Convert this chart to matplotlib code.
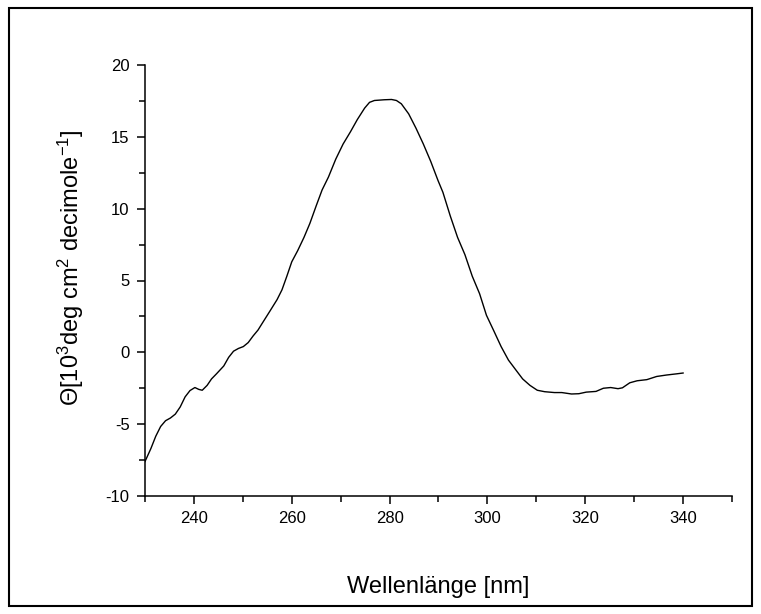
import matplotlib
matplotlib.use("Agg")
import matplotlib.pyplot as plt
from matplotlib.ticker import MultipleLocator
from matplotlib.patches import Rectangle

plt.rcParams['font.family'] = ['Liberation Sans', 'DejaVu Sans']
plt.rcParams['mathtext.fontset'] = 'custom'
plt.rcParams['mathtext.rm'] = 'Liberation Sans'
plt.rcParams['mathtext.it'] = 'Liberation Sans'
plt.rcParams['mathtext.default'] = 'regular'
plt.rcParams['axes.unicode_minus'] = False

wavelength = [230, 231.2, 232.2, 233.2, 234.2, 235.2, 236.2, 237.2, 238.2, 239.2,
              240.2, 241, 241.7, 242.7, 243.6, 244.6, 246.1, 247.1, 248.1, 249.1,
              250.1, 251.1, 252.1, 253.1, 254, 255.5, 257, 258, 259, 260,
              261.2, 262.5, 263.7, 265, 266.2, 267.5, 269, 270.5, 272, 273.4,
              274.9, 275.9, 276.9, 278.9, 280.4, 281.4, 282.4, 283.9, 285.4, 286.9,
              288.4, 289.9, 290.9, 292.4, 293.9, 295.4, 296.9, 298.4, 299.8, 301.3,
              302.8, 304.3, 305.8, 307.2, 308.7, 310.2, 311.7, 313.7, 315.2, 317.2,
              318.7, 320.2, 322.2, 323.7, 325.2, 326.7, 327.6, 329.1, 330.6, 332.6,
              334.6, 336.6, 338.6, 340]
theta = [-7.6, -6.7, -5.84, -5.16, -4.76, -4.57, -4.3, -3.8, -3.1, -2.66,
         -2.45, -2.58, -2.64, -2.3, -1.85, -1.5, -0.95, -0.35, 0.08, 0.27,
         0.4, 0.68, 1.14, 1.55, 2.04, 2.85, 3.67, 4.35, 5.3, 6.3,
         7.07, 8.0, 8.97, 10.2, 11.3, 12.2, 13.45, 14.5, 15.35, 16.2,
         17.0, 17.4, 17.53, 17.58, 17.6, 17.53, 17.3, 16.6, 15.6, 14.5,
         13.3, 11.96, 11.14, 9.5, 8.0, 6.8, 5.3, 4.08, 2.58, 1.5,
         0.4, -0.54, -1.22, -1.85, -2.3, -2.64, -2.74, -2.8, -2.8, -2.9,
         -2.88, -2.77, -2.72, -2.5, -2.45, -2.53, -2.47, -2.12, -1.98, -1.9,
         -1.68, -1.58, -1.5, -1.44]

xlabel = "Wellenlänge [nm]"
ylabel = "Θ[10$^{3}$deg cm$^{2}$ decimole$^{-1}$]"

W, H = 761, 614
fig = plt.figure(figsize=(W/100, H/100), dpi=100)
ax = fig.add_axes([145/W, 1-496/H, (732-145)/W, (496-65)/H])

ax.plot(wavelength, theta, color='black', lw=1.0)

ax.set_xlim(230, 350)
ax.set_ylim(-10, 20)
ax.yaxis.set_major_locator(MultipleLocator(5))
ax.yaxis.set_minor_locator(MultipleLocator(2.5))
ax.set_xticks([240, 260, 280, 300, 320, 340])
ax.set_xticks([230, 250, 270, 290, 310, 330, 350], minor=True)

for s in ['top', 'right']:
    ax.spines[s].set_visible(False)
for s in ['left', 'bottom']:
    ax.spines[s].set_linewidth(1.1)

ax.tick_params(which='major', direction='out', length=6, width=1.1, labelsize=12, pad=5)
ax.tick_params(which='minor', direction='out', length=4, width=1.1)

ax.set_xlabel(xlabel, fontsize=17, labelpad=36)
ax.set_ylabel(ylabel, fontsize=17)
ax.yaxis.set_label_coords(-0.10, 0.53)

fig.patches.append(Rectangle((9/W, 1-606/H), (752-9)/W, (606-8)/H, transform=fig.transFigure,
                             fill=False, edgecolor='black', lw=1.5))

fig.savefig("out.png", dpi=100)
